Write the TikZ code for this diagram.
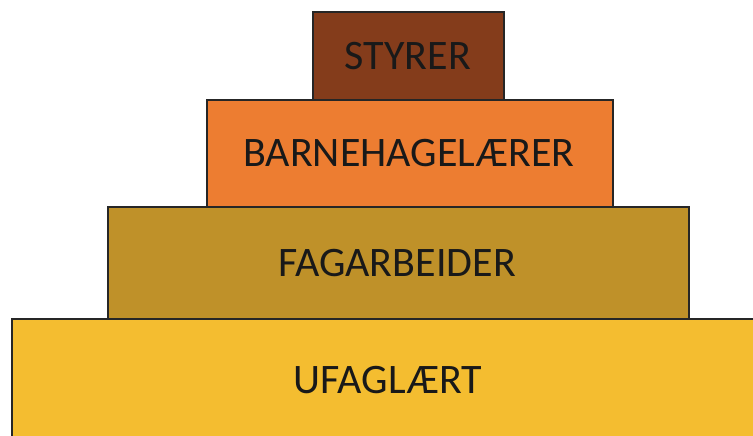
\documentclass[tikz,border=0pt]{standalone}
\usepackage{fontspec}
\setmainfont{Carlito}
\definecolor{styrerbrown}{HTML}{843C1B}
\definecolor{laererorange}{HTML}{ED7D31}
\definecolor{fagochre}{HTML}{BF9129}
\definecolor{ufagyellow}{HTML}{F4BD30}
\begin{document}
\begin{tikzpicture}[x=1pt,y=-1pt,
  level/.style={draw=black!85, line width=1.6pt},
  lbl/.style={font=\fontsize{42}{42}\selectfont, text=black!90, inner sep=0pt}]
\useasboundingbox (0,0) rectangle (753,436);
% pyramid levels, bottom first so the upper edges stay on top
\path[level, fill=ufagyellow]   (12,319) rectangle (770,460);
\path[level, fill=fagochre]     (108,207) rectangle (689,319);
\path[level, fill=laererorange] (207,100) rectangle (613,207);
\path[level, fill=styrerbrown]  (313,12) rectangle (504,100);
\node[lbl] (ufag)   at (388,380) {UFAGLÆRT};
\node[lbl] (fag)    at (397,263) {FAGARBEIDER};
\node[lbl] (laerer) at (409,153) {BARNEHAGELÆRER};
\node[lbl] (styrer) at (408,56)  {STYRER};
\end{tikzpicture}
\end{document}
